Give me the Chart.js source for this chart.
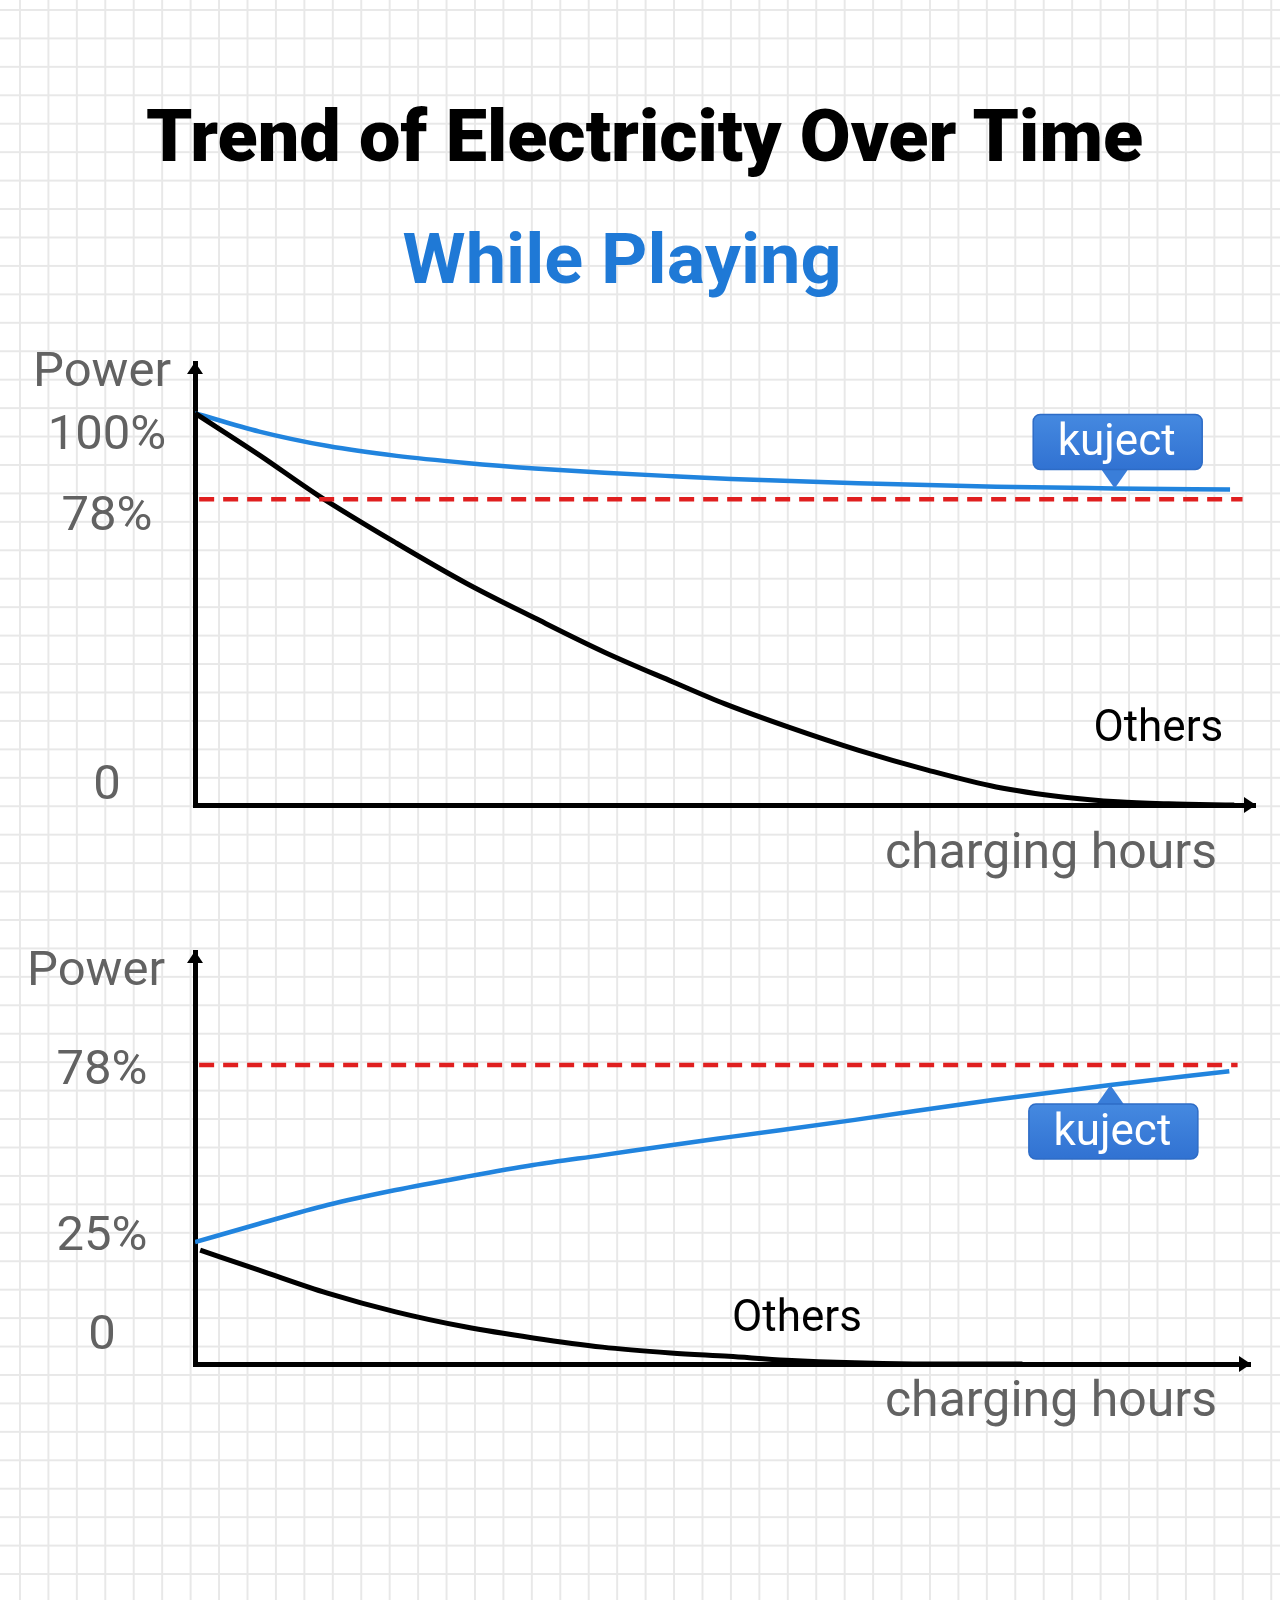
<!DOCTYPE html>
<html>
<head>
<meta charset="utf-8">
<script src="https://cdn.jsdelivr.net/npm/chart.js@4.4.1/dist/chart.umd.min.js"></script>
<style>
  html, body { margin: 0; padding: 0; }
  body {
    width: 1280px; height: 1600px; position: relative; overflow: hidden;
    background-color: #ffffff;
    background-image:
      linear-gradient(#e8e8e8 2px, transparent 2px),
      linear-gradient(90deg, #e8e8e8 2px, transparent 2px);
    background-size: 28.45px 28.45px;
    background-position: 19px 9px;
  }
  .head { position: absolute; left: 0; text-align: center; white-space: nowrap; font-family: Roboto, sans-serif; }
  .head span { display: inline-block; transform-origin: center; }
  #title { top: 100px; width: 1289px; font-size: 73px; line-height: 73px; font-weight: 900; color: #000; }
  #subtitle { top: 224px; width: 1244px; font-size: 70px; line-height: 70px; font-weight: 700; color: #1f79d6; }
  canvas { position: absolute; left: 0; }
  #playing { top: 0; }
  #charging { top: 900px; }
</style>
</head>
<body>
<div class="head" id="title"><span id="titleText">Trend of Electricity Over Time</span></div>
<div class="head" id="subtitle"><span id="subText">While Playing</span></div>
<canvas id="playing" width="1280" height="900"></canvas>
<canvas id="charging" width="1280" height="700"></canvas>
<script>
// values (x = charging hours, y = power %)
var playingKujectHours = [0, 0.62, 1.28, 1.94, 2.61, 3.27, 3.94, 4.6, 5.16, 6.38, 7.71, 8.84, 9.96];
var playingKuject = [100, 95.3, 91.6, 89.1, 87.3, 85.9, 84.8, 83.9, 83.2, 82.1, 81.2, 80.8, 80.5];

var playingOthersHours = [0, 0.62, 1.18, 1.94, 2.61, 3.27, 3.94, 4.6, 5.1, 5.72, 6.38, 7.05, 7.71, 8.37, 8.88, 9.37, 10];
var playingOthers = [100, 89.3, 79.1, 66.8, 56.6, 47.7, 39.0, 31.4, 25.8, 19.8, 14.0, 8.9, 4.6, 2.0, 0.8, 0.3, 0];

var chargingKujectHours = [0, 0.62, 1.28, 1.94, 2.61, 3.27, 3.94, 4.6, 5.16, 6.38, 7.71, 8.85, 10.0];
var chargingKuject = [31.8, 36.6, 41.5, 45.4, 48.8, 51.9, 54.5, 57.1, 59.2, 63.7, 68.9, 72.8, 76.4];

var chargingOthersHours = [0.05, 0.62, 1.28, 1.94, 2.61, 3.27, 3.94, 4.6, 5.16, 5.72, 6.38, 7, 8];
var chargingOthers = [29.7, 24.5, 18.5, 13.6, 9.7, 6.8, 4.4, 2.9, 2.0, 1.0, 0.3, 0, 0];

var thresholdHours = [0.04, 10.08];
var thresholdLevel = [78, 78];

var playingTicks = [100, 78, 0];
var playingTickLabels = ['100%', '78%', '0'];
var chargingTicks = [78, 25, 0];
var chargingTickLabels = ['78%', '25%', '0'];

var BLUE = '#2184de';
var RED = '#e01f1f';

function pts(xs, ys) {
    return xs.map(function (x, i) { return {x: x, y: ys[i]}; });
}

function valueAt(xs, ys, v) {
    for (var i = 1; i < xs.length; i++) {
        if (v <= xs[i]) {
            var t = (v - xs[i - 1]) / (xs[i] - xs[i - 1]);
            return ys[i - 1] + t * (ys[i] - ys[i - 1]);
        }
    }
    return ys[ys.length - 1];
}

function roundRect(ctx, x, y, w, h, r) {
    ctx.beginPath();
    ctx.moveTo(x + r, y);
    ctx.arcTo(x + w, y, x + w, y + h, r);
    ctx.arcTo(x + w, y + h, x, y + h, r);
    ctx.arcTo(x, y + h, x, y, r);
    ctx.arcTo(x, y, x + w, y, r);
    ctx.closePath();
}

// arrows, axis texts, tick labels and the callout badge
var decor = {
    id: 'decor',
    afterDraw: function (chart, args, o) {
        var ctx = chart.ctx, a = chart.chartArea;
        var xs = chart.scales.x, ys = chart.scales.y;
        ctx.save();

        // arrow heads
        ctx.fillStyle = '#000';
        ctx.beginPath();
        ctx.moveTo(a.left, a.top - 1);
        ctx.lineTo(a.left - 8, a.top + 11);
        ctx.lineTo(a.left + 8, a.top + 11);
        ctx.closePath();
        ctx.fill();
        ctx.beginPath();
        ctx.moveTo(a.right + 1, a.bottom);
        ctx.lineTo(a.right - 11, a.bottom - 8);
        ctx.lineTo(a.right - 11, a.bottom + 8);
        ctx.closePath();
        ctx.fill();

        // y tick labels
        ctx.font = '49px Roboto';
        ctx.fillStyle = '#626262';
        ctx.textAlign = 'center';
        ctx.textBaseline = 'middle';
        o.ticks.forEach(function (v, i) {
            ctx.fillText(o.tickLabels[i], a.left - o.tickX, ys.getPixelForValue(v) + o.tickNudge[i]);
        });

        // axis titles
        ctx.textAlign = 'right';
        ctx.fillText('Power', a.left - o.powerX, a.top + o.powerY);
        ctx.font = '50px Roboto';
        ctx.fillText('charging hours', 1217, a.bottom + o.hoursY);

        // series label
        ctx.font = '44px Roboto';
        ctx.fillStyle = '#000';
        ctx.textAlign = 'center';
        ctx.fillText('Others', xs.getPixelForValue(o.othersAt[0]), ys.getPixelForValue(o.othersAt[1]));

        // kuject badge
        var bx = xs.getPixelForValue(o.badgeX);
        var by = ys.getPixelForValue(valueAt(o.badgeXs, o.badgeYs, o.badgeX));
        var w = 169, h = 55, gap = 19, half = 14;
        var top = o.badgeDir < 0 ? by - gap - h : by + gap;
        var g = ctx.createLinearGradient(0, top, 0, top + h);
        g.addColorStop(0, '#4589e0');
        g.addColorStop(1, '#3172d2');
        ctx.fillStyle = '#3a7ed9';
        ctx.beginPath();
        if (o.badgeDir < 0) {
            ctx.moveTo(bx - half, by - gap - 1);
            ctx.lineTo(bx + half, by - gap - 1);
        } else {
            ctx.moveTo(bx - half, by + gap + 1);
            ctx.lineTo(bx + half, by + gap + 1);
        }
        ctx.lineTo(bx, by);
        ctx.closePath();
        ctx.fill();
        roundRect(ctx, bx + 3 - w / 2, top, w, h, 7);
        ctx.fillStyle = g;
        ctx.fill();
        ctx.strokeStyle = '#2e6cc6';
        ctx.lineWidth = 1.5;
        ctx.stroke();
        ctx.fillStyle = '#fff';
        ctx.font = '44px Roboto';
        ctx.textBaseline = 'alphabetic';
        ctx.fillText('kuject', bx + 2, top + 41);

        ctx.restore();
    }
};

function axis(min, max) {
    return {
        type: 'linear', min: min, max: max,
        grid: {display: false, drawTicks: false},
        ticks: {display: false},
        border: {display: true, color: '#000', width: 5},
        // keep the axis box at zero size so the plot area is set by the padding only
        afterFit: function (s) {
            if (s.isHorizontal()) { s.height = 0; } else { s.width = 0; }
        }
    };
}

function lineSet(label, data, color, width, dash) {
    return {
        label: label, data: data,
        borderColor: color, borderWidth: width,
        borderDash: dash || [],
        pointRadius: 0, fill: false,
        cubicInterpolationMode: 'monotone'
    };
}

function makeChart(id, cfg) {
    return new Chart(document.getElementById(id).getContext('2d'), {
        type: 'line',
        data: {datasets: cfg.datasets},
        options: {
            responsive: false,
            devicePixelRatio: 1,
            animation: false,
            layout: {padding: cfg.padding},
            scales: {x: axis(0, 10.2), y: axis(0, cfg.yMax)},
            plugins: {legend: {display: false}, tooltip: {enabled: false}, decor: cfg.decor}
        },
        plugins: [decor]
    });
}

makeChart('playing', {
    padding: {left: 195, right: 25, top: 363, bottom: 95},
    yMax: 112.8,
    datasets: [
        lineSet('threshold', pts(thresholdHours, thresholdLevel), RED, 4.5, [15, 9]),
        lineSet('Others', pts(playingOthersHours, playingOthers), '#000', 5),
        lineSet('kuject', pts(playingKujectHours, playingKuject), BLUE, 4.5)
    ],
    decor: {
        ticks: playingTicks, tickLabels: playingTickLabels, tickNudge: [24, 18, -18], tickX: 88,
        powerX: 24, powerY: 11, hoursY: 50,
        othersAt: [9.27, 19.1],
        badgeX: 8.85, badgeXs: playingKujectHours, badgeYs: playingKuject, badgeDir: -1
    }
});

makeChart('charging', {
    padding: {left: 195, right: 30, top: 52, bottom: 236},
    yMax: 107.5,
    datasets: [
        lineSet('threshold', pts(thresholdHours, thresholdLevel), RED, 4.5, [15, 9]),
        lineSet('Others', pts(chargingOthersHours, chargingOthers), '#000', 5),
        lineSet('kuject', pts(chargingKujectHours, chargingKuject), BLUE, 4.5)
    ],
    decor: {
        ticks: chargingTicks, tickLabels: chargingTickLabels, tickNudge: [7, -30, -27], tickX: 93,
        powerX: 30, powerY: 21, hoursY: 39,
        othersAt: [5.82, 11.5],
        badgeX: 8.85, badgeXs: chargingKujectHours, badgeYs: chargingKuject, badgeDir: 1
    }
});

// squeeze the headings to the width they have in the picture
function fitWidth(id, target) {
    var el = document.getElementById(id);
    var w = el.getBoundingClientRect().width;
    el.style.transform = 'scaleX(' + (target / w).toFixed(3) + ')';
}
fitWidth('titleText', 997);
fitWidth('subText', 439);
</script>
</body>
</html>
